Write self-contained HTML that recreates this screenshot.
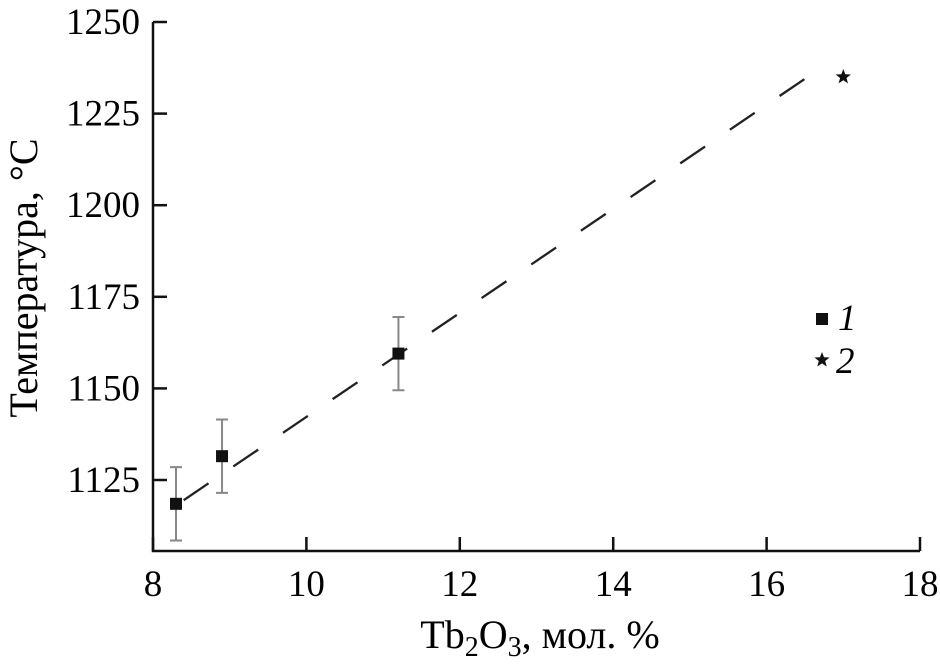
<!DOCTYPE html>
<html><head><meta charset="utf-8"><style>
body{margin:0;background:#fff}
svg{display:block;font-family:"Liberation Serif",serif}
</style></head><body>
<svg width="940" height="664" viewBox="0 0 940 664">
<g id="axes"></g><g id="marks"></g>
</svg>
<script>
const xTicks=[8,10,12,14,16,18];
const yTicks=[1125,1150,1175,1200,1225,1250];
const s1x=[8.3,8.9,11.2];
const s1y=[1118.5,1131.5,1159.5];
const s1err=[10,10,10];
const s2x=[17];
const s2y=[1235];
const fitX=[8.4,16.5];
const fitY=[1119.5,1234.5];
const X=v=>153+(v-8)*76.7;
const Y=v=>22+(1250-v)*3.664;
const NS='http://www.w3.org/2000/svg';
function mk(p,t,a){const e=document.createElementNS(NS,t);for(const k in a)e.setAttribute(k,a[k]);p.appendChild(e);return e;}
const ax=document.getElementById('axes'),mg=document.getElementById('marks');
let e=mk(ax,'path',{d:'M153,22V551H920',fill:'none',stroke:'#111','stroke-width':2.5});

xTicks.forEach(v=>{let l=mk(ax,'line',{x1:X(v),x2:X(v),y1:551,y2:537,stroke:'#111','stroke-width':2.5});

let t=mk(ax,'text',{x:X(v),y:596,'text-anchor':'middle','font-size':37});t.textContent=v;
});
yTicks.forEach(v=>{let l=mk(ax,'line',{x1:153,x2:167,y1:Y(v),y2:Y(v),stroke:'#111','stroke-width':2.5});

let t=mk(ax,'text',{x:140,y:Y(v)+12,'text-anchor':'end','font-size':37});t.textContent=v;
});
let xt=mk(ax,'text',{x:540,y:648,'text-anchor':'middle','font-size':40});
xt.innerHTML='Tb<tspan font-size="28" dy="8">2</tspan><tspan dy="-8">O</tspan><tspan font-size="28" dy="8">3</tspan><tspan dy="-8">, мол. %</tspan>';

let yt=mk(ax,'text',{x:0,y:0,'text-anchor':'middle','font-size':40,transform:'translate(37,278) rotate(-90)'});
yt.textContent='Температура, °C';

let fl=mk(mg,'line',{x1:X(fitX[0]),y1:Y(fitY[0]),x2:X(fitX[1]),y2:Y(fitY[1]),stroke:'#222','stroke-width':2.3,'stroke-dasharray':'30,30'});

s1x.forEach((v,i)=>{const cx=X(v),cy=Y(s1y[i]),t=Y(s1y[i]+s1err[i]),b=Y(s1y[i]-s1err[i]);
let g=mk(mg,'path',{d:`M${cx},${t}V${b}M${cx-6},${t}H${cx+6}M${cx-6},${b}H${cx+6}`,stroke:'#888','stroke-width':2,fill:'none'});

let r=mk(mg,'rect',{x:cx-6,y:cy-6,width:12,height:12,fill:'#111'});
});
function star(cx,cy,R){let p=[];for(let i=0;i<10;i++){const a=-Math.PI/2+i*Math.PI/5,rr=i%2?R*0.42:R;p.push((cx+rr*Math.cos(a)).toFixed(1)+','+(cy+rr*Math.sin(a)).toFixed(1));}return p.join(' ');}
s2x.forEach((v,i)=>{let s=mk(mg,'polygon',{points:star(X(v),Y(s2y[i]),8),fill:'#111'});
});
let lg=mk(mg,'g',{});
let lr=mk(lg,'rect',{x:816,y:313,width:12,height:12,fill:'#111'});

let ls=mk(lg,'polygon',{points:star(822,360,8),fill:'#111'});

let t1=mk(lg,'text',{x:838,y:330,'font-size':37,'font-style':'italic'});t1.textContent='1';

let t2=mk(lg,'text',{x:836,y:373,'font-size':37,'font-style':'italic'});t2.textContent='2';

</script>
</body></html>
